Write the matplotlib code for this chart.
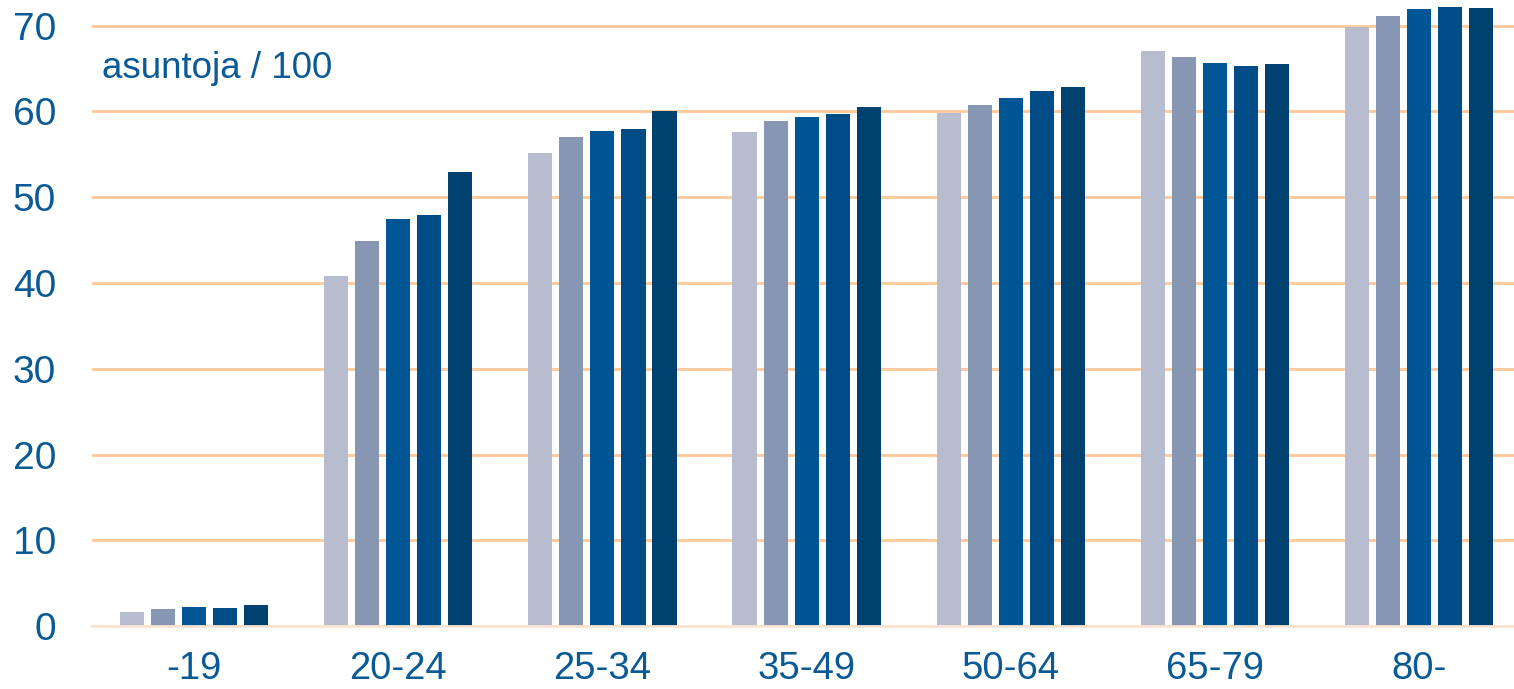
import numpy as np
import matplotlib
matplotlib.use("Agg")
import matplotlib.pyplot as plt

plt.rcParams['font.family'] = ['Liberation Sans', 'DejaVu Sans']

groups = ['-19', '20-24', '25-34', '35-49', '50-64', '65-79', '80-']
s1 = [1.6, 40.8, 55.2, 57.6, 59.8, 67.0, 69.9]
s2 = [2.0, 44.9, 57.0, 58.9, 60.7, 66.3, 71.1]
s3 = [2.2, 47.5, 57.7, 59.4, 61.6, 65.7, 71.9]
s4 = [2.1, 47.9, 58.0, 59.7, 62.4, 65.3, 72.2]
s5 = [2.45, 53.0, 60.0, 60.5, 62.9, 65.5, 72.1]
series = [s1, s2, s3, s4, s5]
colors = ["#B7BDCF", "#8797B3", "#005694", "#004C86", "#004170"]

txt_color = "#0A5A96"

fig = plt.figure(figsize=(15.14, 6.89), dpi=100)
ax = fig.add_axes([0.0608, 0.0914, 0.9392, 0.9086])

x = np.arange(len(groups))
pitch = 0.152
width = 0.118
for i, (vals, c) in enumerate(zip(series, colors)):
    ax.bar(x + (i - 2) * pitch, vals, width=width, color=c, zorder=3)

ax.set_ylim(0, 73)
ax.set_xlim(-0.5, 6.465)
ax.set_yticks(np.arange(0, 71, 10))
ax.set_xticks(x)
ax.set_xticklabels(groups)
ax.tick_params(axis='both', length=0, labelsize=28, labelcolor=txt_color)
ax.tick_params(axis='y', pad=26)
ax.tick_params(axis='x', pad=18, labelsize=27.5)

ax.grid(axis='y', color="#FFC899", linewidth=2, zorder=0)
for side in ['top', 'right', 'left']:
    ax.spines[side].set_visible(False)
ax.spines['bottom'].set_color("#FCE4D2")
ax.spines['bottom'].set_linewidth(2)
ax.spines['bottom'].set_zorder(4)

ax.text(0.007, 0.875, "asuntoja / 100", transform=ax.transAxes,
        fontsize=26.5, color=txt_color, va='baseline', ha='left')

fig.savefig("out.png", dpi=100)
